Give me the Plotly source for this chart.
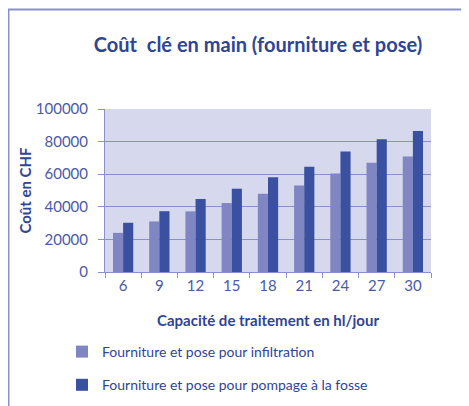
import plotly.graph_objects as go

capacite = ["6", "9", "12", "15", "18", "21", "24", "27", "30"]
infiltration = [24000, 31000, 37200, 42300, 48000, 53000, 60500, 67000, 70800]
pompage = [30200, 37300, 44800, 51100, 58200, 64500, 74000, 81400, 86500]

DARK_TXT = "#2f4594"
TICK_TXT = "#4a5aa6"
FONT = "Lato"

# page body has an 8px margin: work in figure pixels
W, H = 461, 398
L, T, R, B = 97, 101, 38, 134
PW, PH = W - L - R, H - T - B

fig = go.Figure()
fig.add_trace(
    go.Bar(
        x=capacite,
        y=infiltration,
        name="Fourniture et pose pour infiltration",
        marker=dict(color="#7f86c1", line=dict(width=0)),
        legendgroup="a",
    )
)
fig.add_trace(
    go.Bar(
        x=capacite,
        y=pompage,
        name="Fourniture et pose pour pompage à la fosse",
        marker=dict(color="#3a51a2", line=dict(width=0)),
        legendgroup="b",
    )
)

fig.update_layout(
    width=W,
    height=H,
    margin=dict(l=L, r=R, t=T, b=B, autoexpand=False),
    paper_bgcolor="white",
    plot_bgcolor="#d6d8ed",
    barmode="group",
    bargap=0.44,
    bargroupgap=0,
    font=dict(family=FONT, color=TICK_TXT, size=14),
    title=dict(
        text="<b>Coût  clé en main (fourniture et pose)</b>",
        font=dict(size=20, color=DARK_TXT, family=FONT),
        x=250 / W,
        xanchor="center",
        y=1 - 37 / H,
        yanchor="middle",
    ),
    xaxis=dict(
        title=dict(
            text="<b>Capacité de traitement en hl/jour</b>",
            font=dict(size=15, color=DARK_TXT),
            standoff=22,
        ),
        ticks="outside",
        tickson="boundaries",
        ticklen=5,
        tickcolor="#8a90cc",
        showline=True,
        linecolor="#8a90cc",
        linewidth=1,
        tickfont=dict(size=15, color=TICK_TXT),
    ),
    yaxis=dict(
        title=dict(
            text="<b>Coût en CHF</b>",
            font=dict(size=15, color=DARK_TXT),
            standoff=0,
        ),
        range=[0, 100000],
        tick0=0,
        dtick=20000,
        tickformat="d",
        ticks="outside",
        ticklen=6,
        tickcolor="#8a90cc",
        ticklabelstandoff=7,
        showline=True,
        linecolor="#8a90cc",
        gridcolor="#8a90cc",
        gridwidth=1,
        zeroline=False,
        tickfont=dict(size=15, color=TICK_TXT),
    ),
    legend=dict(
        orientation="v",
        x=(54 - L) / PW,
        xanchor="left",
        y=(T + PH - 328) / PH,
        yanchor="top",
        traceorder="grouped",
        tracegroupgap=12,
        font=dict(size=14, color=DARK_TXT),
        bgcolor="rgba(0,0,0,0)",
    ),
    shapes=[
        dict(
            type="rect",
            xref="paper",
            yref="paper",
            x0=(0.5 - L) / PW,
            x1=(480 - L) / PW,
            y0=(T + PH - 420) / PH,
            y1=1 + (T - 1.5) / PH,
            line=dict(color="#8a8fd0", width=2),
            layer="below",
        )
    ],
)

fig.write_html("out.html")
